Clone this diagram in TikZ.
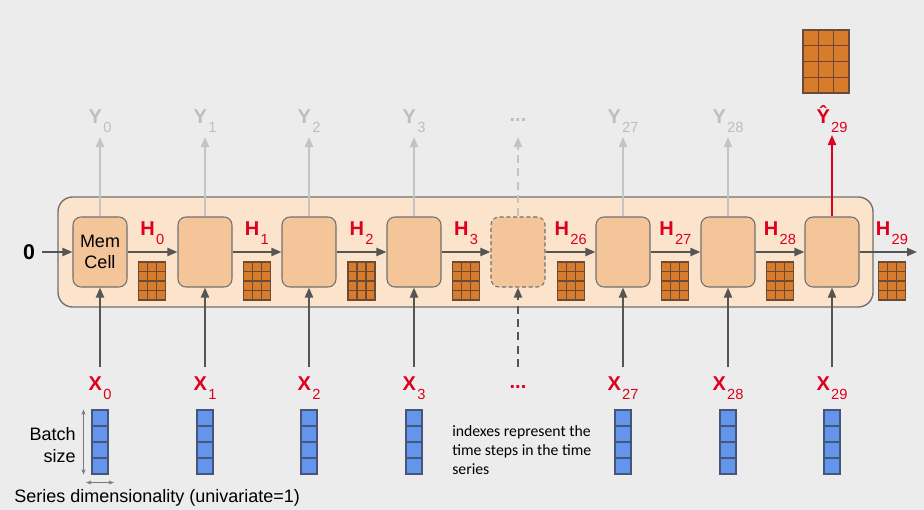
\documentclass[tikz,border=0pt]{standalone}
\usepackage{fontspec}
\setmainfont{Liberation Sans}
\newfontfamily\notefont{Carlito}
\usetikzlibrary{arrows.meta}

\definecolor{bggrey}{RGB}{236,236,236}
\definecolor{outerfill}{RGB}{251,227,204}
\definecolor{cellfill}{RGB}{243,197,152}
\definecolor{edgegrey}{RGB}{112,112,112}
\definecolor{arrgrey}{RGB}{85,85,85}
\definecolor{ygrey}{RGB}{196,196,196}
\definecolor{ylabgrey}{RGB}{190,190,190}
\definecolor{mred}{RGB}{222,0,28}
\definecolor{morange}{RGB}{216,124,44}
\definecolor{mbrown}{RGB}{105,75,55}
\definecolor{mblue}{RGB}{100,149,237}
\definecolor{mbluedge}{RGB}{70,85,120}
\definecolor{dimgrey}{RGB}{120,120,120}

\tikzset{
  memcell/.style={draw=edgegrey, fill=cellfill, rounded corners=6pt, line width=0.8pt,
    minimum width=40.5pt, minimum height=52.5pt, inner sep=0pt},
  flow/.style={draw=arrgrey, line width=1.4pt, -{Triangle[length=7.5pt,width=6pt]}},
  outflow/.style={draw=ygrey, line width=1.5pt, -{Triangle[length=7.5pt,width=6pt]}},
  lbl/.style={anchor=base, inner sep=0pt, font=\fontsize{15}{17}\selectfont},
  vecbox/.style={draw=mbluedge, fill=mblue, line width=0.8pt,
    minimum width=12pt, minimum height=48pt, inner sep=0pt},
  dimarrow/.style={draw=dimgrey, line width=0.6pt, {Stealth[length=4pt,width=3pt]}-{Stealth[length=4pt,width=3pt]}}
}

% letter with lowered index
\newcommand{\idx}[2]{\textbf{#1}\kern1pt\raisebox{-6.75pt}{\fontsize{11}{12}\selectfont #2}}

% orange 3x4 matrix: centre x, centre y, cell width, cell height
\newcommand{\orangegrid}[4]{
 \draw[fill=morange, draw=mbrown, line width=0.8pt] (#1-1.5*#3,#2-2*#4) rectangle (#1+1.5*#3,#2+2*#4);
 \foreach \k in {-0.5,0.5}
  \draw[mbrown, line width=0.8pt] (#1+\k*#3,#2-2*#4) -- (#1+\k*#3,#2+2*#4);
 \foreach \k in {-1,0,1}
  \draw[mbrown, line width=0.8pt] (#1-1.5*#3,#2+\k*#4) -- (#1+1.5*#3,#2+\k*#4);
}

\begin{document}
\begin{tikzpicture}[x=0.75pt,y=-0.75pt]
\fill[bggrey] (0,0) rectangle (924,510);
\useasboundingbox (0,0) rectangle (924,510);

% the unrolled layer
\draw[draw=edgegrey, fill=outerfill, line width=1pt, rounded corners=11pt] (58,197) rectangle (873,307);

% cells
\node[memcell, align=center, font=\fontsize{13.5}{15.75}\selectfont] (cell0) at (100,252) {Mem\\Cell};
\foreach \i in {1,2,3,5,6,7}
{
 \node[memcell] (cell\i) at ({round(100+104.6*\i)},252) {};
}
\node[memcell, dash pattern=on 3pt off 2pt] (cell4) at (518,252) {};

\foreach \i in {0,...,7}
{
 \coordinate (ytip\i) at ({round(100+104.6*\i)},137);
 \coordinate (xin\i) at ({round(100+104.6*\i)},367);
}
\coordinate (ytip7) at (832,135);
\coordinate (hend) at (917,252);

% state flow
\node[inner sep=0pt, font=\fontsize{16}{18}\selectfont\bfseries] (zero) at (29,252) {0};
\draw[flow] ([xshift=5pt]zero.east) -- (cell0.west);
\foreach \i [count=\j from 1] in {0,...,6}
{
 \draw[flow] (cell\i.east) -- (cell\j.west);
}
\draw[flow] (cell7.east) -- (hend);

\foreach \i/\s in {0/0,1/1,2/2,3/3,4/26,5/27,6/28}
{
 \node[lbl, text=mred] (h\i) at ({152.3+104.6*\i},235) {\idx{H}{\s}};
 \orangegrid{152.3+104.6*\i}{281}{9}{9.5}
}
\node[lbl, text=mred] (h7) at (892,235) {\idx{H}{29}};
\orangegrid{892}{281}{9}{9.5}

% outputs
\foreach \i/\s in {0/0,1/1,2/2,3/3,5/27,6/28}
{
 \draw[outflow] (cell\i.north) -- (ytip\i);
 \node[lbl, text=ylabgrey] (yl\i) at ({round(100+104.6*\i)},123) {\idx{Y}{\s}};
}
\draw[outflow, dash pattern=on 6pt off 4pt] (cell4.north) -- (ytip4);
\node[lbl, text=ylabgrey] (yl4) at (518,122) {\textbf{...}};
\draw[outflow, draw=mred] (cell7.north) -- (ytip7);
\node[lbl, text=mred] (yl7) at (832,123) {\idx{\^{Y}}{29}};
\orangegrid{826}{61.5}{15.33}{15.75}

% inputs
\foreach \i/\s in {0/0,1/1,2/2,3/3,5/27,6/28,7/29}
{
 \draw[flow] (xin\i) -- (cell\i.south);
 \node[lbl, text=mred] (xl\i) at ({round(100+104.6*\i)},390) {\idx{X}{\s}};
 \node[vecbox] (v\i) at ({round(100+104.6*\i)},442) {};
 \foreach \k in {1,2,3}
  \draw[mbluedge, line width=0.8pt] (v\i.west |- 0,410+16*\k) -- (v\i.east |- 0,410+16*\k);
}
\draw[flow, dash pattern=on 6pt off 4pt] (xin4) -- (cell4.south);
\node[lbl, text=mred] (xl4) at (518,388) {\textbf{...}};

% batch and series sizes
\draw[dimarrow] ([xshift=-6pt]v0.north west) -- ([xshift=-6pt]v0.south west);
\draw[dimarrow] ([xshift=-4pt,yshift=-6pt]v0.south west) -- ([xshift=4pt,yshift=-6pt]v0.south east);
\node[anchor=east, inner sep=0pt, align=right, font=\fontsize{13.5}{16.5}\selectfont] (batch) at (76,445) {Batch\\size};
\node[anchor=base west, inner sep=0pt, font=\fontsize{13.5}{16}\selectfont] (series) at (14,502) {Series dimensionality (univariate=1)};

\node[anchor=west, inner sep=0pt, align=left, font=\notefont\fontsize{11.8}{14.25}\selectfont] (note) at (452,450) {indexes represent the\\time steps in the time\\series};
\end{tikzpicture}
\end{document}
